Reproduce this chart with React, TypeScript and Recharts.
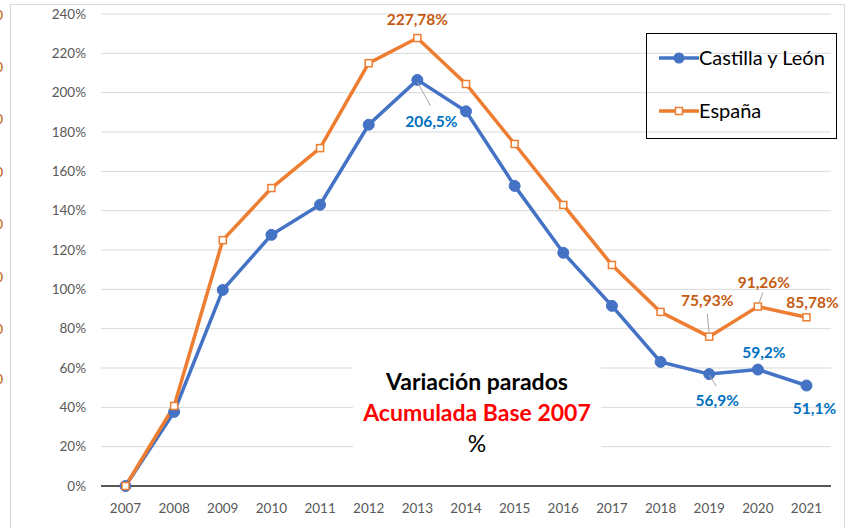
import React from 'react';
import { LineChart, Line, XAxis, YAxis, CartesianGrid, LabelList } from 'recharts';

const years = ['2007', '2008', '2009', '2010', '2011', '2012', '2013', '2014', '2015', '2016', '2017', '2018', '2019', '2020', '2021'];
const castillaLeon = [0, 37.7, 99.7, 127.7, 143, 183.7, 206.5, 190.5, 152.6, 118.6, 91.6, 63.1, 56.9, 59.2, 51.1];
const espana = [0, 40.7, 125, 151.5, 171.8, 215, 227.78, 204.4, 173.9, 142.9, 112.4, 88.5, 75.93, 91.26, 85.78];
const yTicks = [0, 20, 40, 60, 80, 100, 120, 140, 160, 180, 200, 220, 240];

// labelled points (index -> text)
const castillaLabels: Record<number, string> = { 6: '206,5%', 12: '56,9%', 13: '59,2%', 14: '51,1%' };
const espanaLabels: Record<number, string> = { 6: '227,78%', 12: '75,93%', 13: '91,26%', 14: '85,78%' };

const data = years.map((year, i) => ({ year, cyl: castillaLeon[i], esp: espana[i] }));

const BLUE = '#4472C4';
const ORANGE = '#ED7D31';
const BLUE_TXT = '#0070C0';
const ORANGE_TXT = '#C55A11';
const FONT = 'Lato, "Open Sans", sans-serif';

type Place = { dx: number; dy: number; lead?: [number, number, number, number] };

const cylPlace: Record<number, Place> = {
  6: { dx: 14, dy: 41, lead: [0, 2, 13, 26] },
  12: { dx: 8, dy: 26, lead: [0, 1, 7, 12] },
  13: { dx: 6, dy: -18 },
  14: { dx: 8, dy: 22 },
};
const espPlace: Record<number, Place> = {
  6: { dx: 0, dy: -19 },
  12: { dx: -2, dy: -37, lead: [0, -3, -2, -23] },
  13: { dx: 6, dy: -25, lead: [1, -3, 5, -14] },
  14: { dx: 6, dy: -15 },
};

const makeLabel = (texts: Record<number, string>, places: Record<number, Place>, color: string) =>
  (props: any) => {
    const { x, y, index } = props;
    const text = texts[index];
    if (!text) return null;
    const p = places[index];
    return (
      <g>
        {p.lead && (
          <line x1={x + p.lead[0]} y1={y + p.lead[1]} x2={x + p.lead[2]} y2={y + p.lead[3]} stroke="#a6a6a6" strokeWidth={1} />
        )}
        <text
          x={x + p.dx}
          y={y + p.dy}
          textAnchor="middle"
          dominantBaseline="central"
          fill={color}
          fontFamily={FONT}
          fontWeight={700}
          fontSize={15.5}
        >
          {text}
        </text>
      </g>
    );
  };

const SquareDot = (props: any) => {
  const { cx, cy } = props;
  if (cx == null || cy == null) return null;
  return <rect x={cx - 3.5} y={cy - 3.5} width={7} height={7} fill="#fff" stroke={ORANGE} strokeWidth={1.5} />;
};

const LegendBox = () => (
  <div
    style={{
      position: 'absolute',
      left: 646,
      top: 33,
      width: 191,
      height: 106,
      border: '1.5px solid #000',
      boxSizing: 'border-box',
      fontFamily: FONT,
      fontSize: 20,
      color: '#000',
    }}
  >
    <svg width={44} height={106} style={{ position: 'absolute', left: 12, top: 0 }}>
      <line x1={0} y1={24} x2={40} y2={24} stroke={BLUE} strokeWidth={3.5} />
      <circle cx={20} cy={24} r={5.5} fill={BLUE} />
      <line x1={0} y1={77} x2={40} y2={77} stroke={ORANGE} strokeWidth={3.5} />
      <rect x={16.5} y={73.5} width={7} height={7} fill="#fff" stroke={ORANGE} strokeWidth={1.5} />
    </svg>
    <div style={{ position: 'absolute', left: 52, top: 11, whiteSpace: 'nowrap' }}>Castilla y León</div>
    <div style={{ position: 'absolute', left: 52, top: 64, whiteSpace: 'nowrap' }}>España</div>
  </div>
);

const leftStubs = [15, 67, 119, 172, 224, 277, 329, 379];

export default function App() {
  return (
    <div style={{ position: 'absolute', left: 0, top: 0, width: 850, height: 528, background: '#fff', overflow: 'hidden' }}>
      {/* frame of the surrounding sheet */}
      <div
        style={{
          position: 'absolute',
          left: 10,
          top: 4,
          width: 833,
          height: 540,
          borderLeft: '1px solid #d9d9d9',
          borderTop: '1px solid #d9d9d9',
          borderRight: '1px solid #d9d9d9',
        }}
      />
      {leftStubs.map((t) => (
        <div
          key={t}
          style={{ position: 'absolute', left: -5, top: t - 9, fontFamily: FONT, fontSize: 14, color: ORANGE_TXT }}
        >
          0
        </div>
      ))}
      <LineChart width={850} height={528} data={data} margin={{ top: 14, right: 19, bottom: 0, left: 0 }}>
        <CartesianGrid vertical={false} stroke="#d9d9d9" strokeWidth={1} />
        <XAxis
          dataKey="year"
          padding={{ left: 24.5, right: 24.5 }}
          axisLine={{ stroke: '#262626', strokeWidth: 1.5 }}
          tickLine={false}
          tickSize={0}
          tickMargin={17}
          height={42}
          interval={0}
          tick={{ fill: '#595959', fontSize: 13.5, fontFamily: FONT }}
        />
        <YAxis
          width={101}
          domain={[0, 240]}
          ticks={yTicks}
          tickFormatter={(v: number) => `${v}%`}
          axisLine={false}
          tickLine={false}
          tickSize={0}
          tickMargin={15}
          tick={{ fill: '#595959', fontSize: 13.5, fontFamily: FONT }}
        />
        <Line
          type="linear"
          dataKey="cyl"
          name="Castilla y León"
          stroke={BLUE}
          strokeWidth={3.5}
          dot={{ r: 5.5, fill: BLUE, stroke: BLUE, strokeWidth: 1 }}
          isAnimationActive={false}
        >
          <LabelList dataKey="cyl" content={makeLabel(castillaLabels, cylPlace, BLUE_TXT)} />
        </Line>
        <Line
          type="linear"
          dataKey="esp"
          name="España"
          stroke={ORANGE}
          strokeWidth={3.5}
          dot={<SquareDot />}
          isAnimationActive={false}
        >
          <LabelList dataKey="esp" content={makeLabel(espanaLabels, espPlace, ORANGE_TXT)} />
        </Line>
      </LineChart>
      <LegendBox />
      <div
        style={{
          position: 'absolute',
          left: 353,
          top: 362,
          width: 248,
          height: 100,
          background: '#fff',
          textAlign: 'center',
          fontFamily: FONT,
          fontSize: 23,
          lineHeight: '31px',
          paddingTop: 4,
          boxSizing: 'border-box',
        }}
      >
        <div style={{ fontWeight: 700, color: '#000' }}>Variación parados</div>
        <div style={{ fontWeight: 700, color: '#FF0000' }}>Acumulada Base 2007</div>
        <div style={{ color: '#000' }}>%</div>
      </div>
    </div>
  );
}
